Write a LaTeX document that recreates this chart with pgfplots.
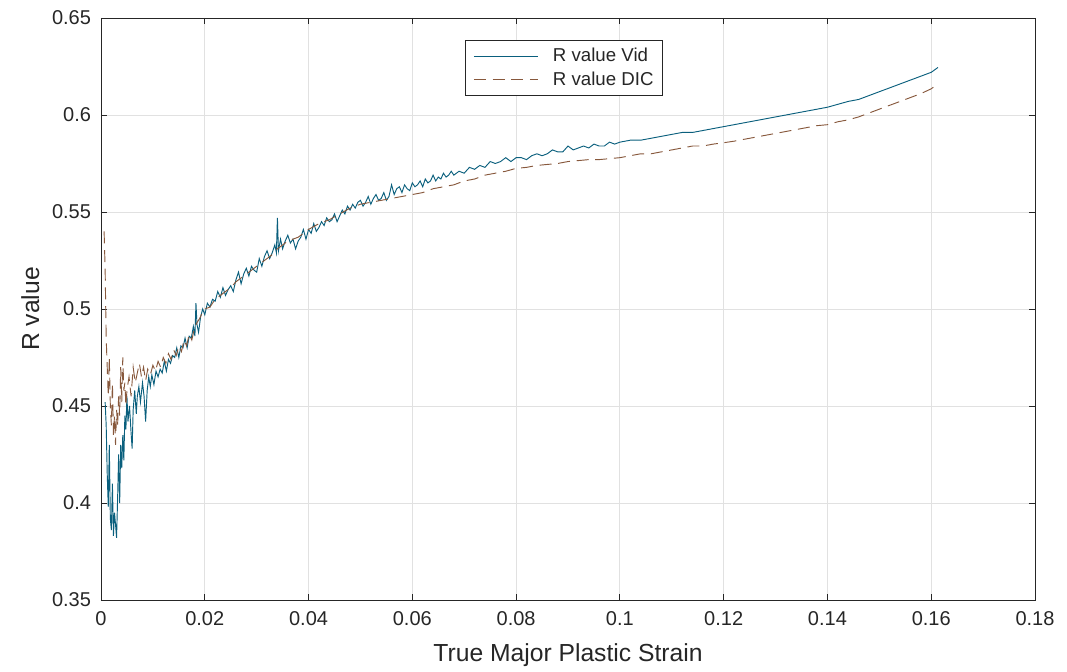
\documentclass[border=0pt]{standalone}
\usepackage{pgfplots}
\pgfplotsset{compat=1.18}
\usepackage{fontspec}
\setmainfont{Liberation Sans}
\definecolor{vidc}{RGB}{10,95,125}
\definecolor{dicc}{RGB}{135,88,60}
\definecolor{axc}{RGB}{38,38,38}
\begin{document}
\begin{tikzpicture}
\begin{axis}[
  scale only axis,
  width=700.5pt, height=436.5pt,
  xmin=0, xmax=0.18, ymin=0.35, ymax=0.65,
  xtick={0,0.02,...,0.18}, ytick={0.35,0.4,...,0.65},
  xticklabels={0,0.02,0.04,0.06,0.08,0.1,0.12,0.14,0.16,0.18},
  yticklabels={0.35,0.4,0.45,0.5,0.55,0.6,0.65},
  grid=major,
  major grid style={draw={rgb,255:red,225;green,225;blue,225}, line width=0.6pt},
  axis line style={draw=axc, line width=0.6pt},
  tick style={draw=axc, line width=0.6pt},
  tick align=inside, major tick length=4.5pt,
  ticklabel style={font=\fontsize{15}{18}\selectfont, text=axc},
  xticklabel style={yshift=-5pt},
  yticklabel style={xshift=-4pt},
  xlabel={True Major Plastic Strain}, ylabel={R value},
  label style={font=\fontsize{18.5}{21}\selectfont, text=axc, inner sep=1pt},
  xlabel style={yshift=-9pt},
  ylabel style={yshift=5pt},
  legend style={at={(0.3897,0.9622)}, anchor=north west, draw=axc, line width=0.6pt,
    font=\fontsize{14}{16}\selectfont, text=axc, inner xsep=6pt, inner ysep=4pt, row sep=2pt,
    cells={anchor=west}, /tikz/every odd column/.append style={column sep=9pt}},
  legend image code/.code={\draw[#1] (0pt,0pt) -- (48pt,0pt);},
]
\addplot[color=vidc, line width=0.7pt] coordinates {
(0.0008,0.452)(0.0010,0.440)(0.0012,0.415)(0.0014,0.398)(0.0016,0.430)(0.0018,0.392)
(0.0020,0.386)(0.0022,0.410)(0.0024,0.383)(0.0026,0.395)(0.0028,0.389)(0.0030,0.382)
(0.0032,0.402)(0.0034,0.425)(0.0036,0.400)(0.0038,0.430)(0.0040,0.418)(0.0042,0.435)
(0.0044,0.422)(0.0046,0.445)(0.0048,0.438)(0.0050,0.455)(0.0052,0.442)(0.0055,0.450)
(0.0058,0.436)(0.0060,0.428)(0.0062,0.448)(0.0065,0.458)(0.0068,0.446)(0.0070,0.455)
(0.0073,0.460)(0.0076,0.452)(0.0080,0.462)(0.0083,0.455)(0.0086,0.442)(0.0089,0.458)
(0.0092,0.465)(0.0095,0.460)(0.0098,0.466)(0.0102,0.461)(0.0106,0.468)(0.0110,0.465)
(0.0114,0.469)(0.0118,0.467)(0.0122,0.473)(0.0126,0.468)(0.0130,0.474)(0.0134,0.472)
(0.0138,0.476)(0.0142,0.475)(0.0146,0.480)(0.0150,0.475)(0.0154,0.481)(0.0158,0.480)
(0.0162,0.485)(0.0166,0.480)(0.0170,0.486)(0.0174,0.485)(0.0178,0.491)(0.0181,0.486)
(0.0183,0.503)(0.0185,0.492)(0.0188,0.488)(0.0192,0.496)(0.0196,0.500)(0.0200,0.497)
(0.0205,0.503)(0.0210,0.501)(0.0215,0.505)(0.0220,0.504)(0.0225,0.509)(0.0230,0.506)
(0.0235,0.511)(0.0240,0.507)(0.0245,0.510)(0.0250,0.512)(0.0255,0.509)(0.0260,0.515)
(0.0265,0.519)(0.0270,0.513)(0.0275,0.518)(0.0280,0.521)(0.0285,0.517)(0.0290,0.522)
(0.0295,0.520)(0.0300,0.519)(0.0305,0.526)(0.0310,0.522)(0.0315,0.527)(0.0320,0.530)
(0.0325,0.526)(0.0330,0.529)(0.0335,0.533)(0.0338,0.529)(0.0340,0.547)(0.0342,0.530)
(0.0346,0.536)(0.0350,0.531)(0.0355,0.535)(0.0360,0.538)(0.0365,0.534)(0.0370,0.536)
(0.0375,0.531)(0.0380,0.535)(0.0385,0.537)(0.0390,0.541)(0.0395,0.536)(0.0400,0.541)
(0.0405,0.539)(0.0410,0.544)(0.0415,0.540)(0.0420,0.542)(0.0425,0.545)(0.0430,0.543)
(0.0435,0.547)(0.0440,0.545)(0.0445,0.546)(0.0450,0.549)(0.0455,0.545)(0.0460,0.548)
(0.0465,0.551)(0.0470,0.549)(0.0475,0.553)(0.0480,0.551)(0.0485,0.554)(0.0490,0.552)
(0.0495,0.555)(0.0500,0.556)(0.0505,0.553)(0.0510,0.555)(0.0515,0.558)(0.0520,0.554)
(0.0525,0.557)(0.0530,0.559)(0.0535,0.556)(0.0540,0.557)(0.0545,0.560)(0.0550,0.556)
(0.0555,0.558)(0.0560,0.564)(0.0565,0.559)(0.0570,0.562)(0.0575,0.563)(0.0580,0.560)
(0.0585,0.564)(0.0590,0.562)(0.0595,0.561)(0.0600,0.565)(0.0605,0.563)(0.0610,0.564)
(0.0615,0.566)(0.0620,0.563)(0.0625,0.567)(0.0630,0.565)(0.0635,0.566)(0.0640,0.569)
(0.0645,0.566)(0.0650,0.568)(0.0655,0.567)(0.0660,0.570)(0.0665,0.568)(0.0670,0.569)
(0.0675,0.571)(0.0680,0.569)(0.0690,0.571)(0.0700,0.570)(0.0710,0.573)(0.0720,0.572)
(0.0730,0.574)(0.0740,0.573)(0.0750,0.576)(0.0760,0.575)(0.0770,0.576)(0.0780,0.578)
(0.0790,0.576)(0.0800,0.578)(0.0810,0.578)(0.0820,0.577)(0.0830,0.579)(0.0840,0.580)
(0.0850,0.579)(0.0860,0.580)(0.0870,0.582)(0.0880,0.581)(0.0890,0.581)(0.0900,0.584)
(0.0910,0.582)(0.0920,0.583)(0.0930,0.584)(0.0940,0.583)(0.0950,0.585)(0.0960,0.584)
(0.0970,0.584)(0.0980,0.586)(0.0990,0.585)(0.1000,0.586)(0.1020,0.587)(0.1040,0.587)
(0.1060,0.588)(0.1080,0.589)(0.1100,0.590)(0.1120,0.591)(0.1140,0.591)(0.1160,0.592)
(0.1180,0.593)(0.1200,0.594)(0.1220,0.595)(0.1240,0.596)(0.1260,0.597)(0.1280,0.598)
(0.1300,0.599)(0.1320,0.600)(0.1340,0.601)(0.1360,0.602)(0.1380,0.603)(0.1400,0.604)
(0.1420,0.6055)(0.1440,0.607)(0.1460,0.608)(0.1480,0.610)(0.1500,0.612)(0.1520,0.614)
(0.1540,0.616)(0.1560,0.618)(0.1580,0.620)(0.1600,0.622)(0.1613,0.6245)
};
\addlegendentry{\makebox[74pt][l]{R value Vid}}
\addplot[color=dicc, line width=0.7pt, dash pattern=on 9pt off 5pt] coordinates {
(0.0006,0.540)(0.0008,0.520)(0.0010,0.485)(0.0012,0.470)(0.0014,0.455)(0.0016,0.475)
(0.0018,0.450)(0.0020,0.440)(0.0022,0.462)(0.0024,0.435)(0.0026,0.445)(0.0028,0.430)
(0.0030,0.448)(0.0032,0.440)(0.0034,0.455)(0.0036,0.445)(0.0038,0.470)(0.0040,0.452)
(0.0042,0.475)(0.0044,0.458)(0.0046,0.462)(0.0048,0.450)(0.0050,0.458)(0.0054,0.465)
(0.0058,0.455)(0.0062,0.470)(0.0066,0.462)(0.0070,0.467)(0.0074,0.472)(0.0078,0.465)
(0.0082,0.470)(0.0086,0.463)(0.0090,0.469)(0.0095,0.466)(0.0100,0.471)(0.0105,0.468)
(0.0110,0.473)(0.0115,0.470)(0.0120,0.475)(0.0125,0.472)(0.0130,0.477)(0.0135,0.474)
(0.0140,0.479)(0.0145,0.476)(0.0150,0.481)(0.0155,0.478)(0.0160,0.484)(0.0165,0.481)
(0.0170,0.487)(0.0175,0.484)(0.0180,0.490)(0.0185,0.493)(0.0190,0.495)(0.0195,0.498)
(0.0200,0.500)(0.0210,0.501)(0.0220,0.505)(0.0230,0.507)(0.0240,0.509)(0.0250,0.511)
(0.0260,0.514)(0.0270,0.516)(0.0280,0.518)(0.0290,0.520)(0.0300,0.522)(0.0310,0.524)
(0.0320,0.526)(0.0330,0.528)(0.0340,0.531)(0.0350,0.533)(0.0360,0.535)(0.0370,0.536)
(0.0380,0.537)(0.0390,0.539)(0.0400,0.541)(0.0420,0.544)(0.0440,0.546)(0.0460,0.549)
(0.0480,0.552)(0.0500,0.554)(0.0520,0.555)(0.0540,0.556)(0.0560,0.557)(0.0580,0.558)
(0.0600,0.559)(0.0620,0.560)(0.0640,0.562)(0.0660,0.563)(0.0680,0.564)(0.0700,0.566)
(0.0720,0.567)(0.0740,0.569)(0.0760,0.570)(0.0780,0.571)(0.0800,0.5725)(0.0820,0.573)
(0.0840,0.574)(0.0860,0.5745)(0.0880,0.575)(0.0900,0.576)(0.0920,0.5765)(0.0940,0.577)
(0.0960,0.577)(0.0980,0.5775)(0.1000,0.578)(0.1020,0.579)(0.1040,0.580)(0.1060,0.580)
(0.1080,0.581)(0.1100,0.582)(0.1120,0.583)(0.1140,0.584)(0.1160,0.584)(0.1180,0.585)
(0.1200,0.5857)(0.1220,0.5865)(0.1240,0.5875)(0.1260,0.5885)(0.1280,0.5895)(0.1300,0.5905)
(0.1320,0.5915)(0.1340,0.5925)(0.1360,0.5935)(0.1380,0.5945)(0.1400,0.595)(0.1420,0.5965)
(0.1440,0.5975)(0.1460,0.599)(0.1480,0.601)(0.1500,0.603)(0.1520,0.605)(0.1540,0.607)
(0.1560,0.609)(0.1580,0.611)(0.1600,0.6135)(0.1605,0.6145)
};
\addlegendentry{\makebox[74pt][l]{R value DIC}}
\end{axis}
\path (current axis.south west) ++(-75.75pt,-54pt) coordinate (bbA);
\path (current axis.north east) ++(24pt,13.5pt) coordinate (bbB);
\path (bbA) rectangle (bbB);
\end{tikzpicture}
\end{document}
